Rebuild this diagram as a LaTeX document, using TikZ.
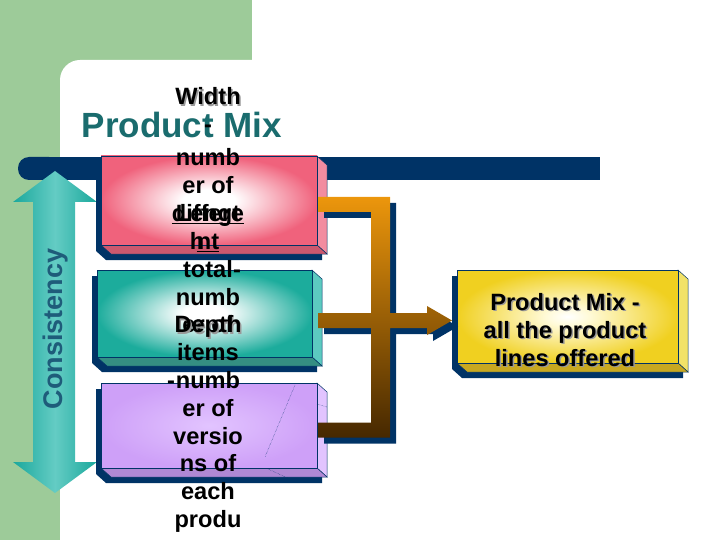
\documentclass[tikz,border=0pt]{standalone}
\usepackage{fontspec}
\setmainfont{Liberation Sans}
\usetikzlibrary{calc}
\definecolor{navy}{RGB}{0,51,102}
\definecolor{leaf}{RGB}{157,203,153}
\definecolor{rose}{RGB}{240,98,124}
\definecolor{roseside}{RGB}{242,140,160}
\definecolor{rosebase}{RGB}{204,88,110}
\definecolor{sea}{RGB}{28,172,156}
\definecolor{seaside}{RGB}{92,202,192}
\definecolor{seabase}{RGB}{52,142,130}
\definecolor{lilac}{RGB}{206,160,248}
\definecolor{lilacin}{RGB}{226,196,255}
\definecolor{lilacbase}{RGB}{176,136,212}
\definecolor{lemon}{RGB}{240,208,32}
\definecolor{lemonin}{RGB}{255,250,215}
\definecolor{lemonside}{RGB}{242,226,104}
\definecolor{lemonbase}{RGB}{200,168,32}
\definecolor{arrowmid}{RGB}{100,204,196}
\definecolor{arrowedge}{RGB}{26,168,156}
\definecolor{amber}{RGB}{236,150,12}
\definecolor{amberdk}{RGB}{176,112,18}
\definecolor{umber}{RGB}{70,40,0}
\definecolor{titleteal}{RGB}{26,108,110}
\definecolor{consblue}{RGB}{30,92,122}
\pgfdeclarelayer{back}
\pgfdeclarelayer{mid}
\pgfsetlayers{back,mid,main}
\pgfdeclareradialshading{roseface}{\pgfpoint{0bp}{0bp}}{color(0bp)=(white); color(6bp)=(white); color(25bp)=(rose); color(50bp)=(rose)}
\pgfdeclareradialshading{seaface}{\pgfpoint{0bp}{0bp}}{color(0bp)=(white); color(5bp)=(white); color(25bp)=(sea); color(50bp)=(sea)}
\pgfdeclareradialshading{lilacface}{\pgfpoint{0bp}{0bp}}{color(0bp)=(lilacin); color(25bp)=(lilac); color(50bp)=(lilac)}
\pgfdeclareradialshading{lemonface}{\pgfpoint{0bp}{0bp}}{color(0bp)=(white); color(5bp)=(lemonin); color(25bp)=(lemon); color(50bp)=(lemon)}

% shadow, side and bottom face of a box node
\newcommand{\bevel}[3]{%
	\begin{pgfonlayer}{mid}
	\fill[navy] ($(#1.north west)+(-5,6)$) -- ($(#1.north east)+(-5,6)$) -- ($(#1.north east)+(5,15)$)
		-- ($(#1.south east)+(5,15)$) -- ($(#1.south west)+(5,15)$) -- ($(#1.south west)+(-5,6)$) -- cycle;
	\filldraw[fill=#2, draw=navy, line width=0.5pt] (#1.north east) -- ($(#1.north east)+(10,9)$)
		-- ($(#1.south east)+(10,9)$) -- (#1.south east) -- cycle;
	\filldraw[fill=#3, draw=navy, line width=0.5pt] (#1.south west) -- (#1.south east)
		-- ($(#1.south east)+(10,9)$) -- ($(#1.south west)+(10,9)$) -- cycle;
	\end{pgfonlayer}}

% bracket with arrow, #1 = offset
\newcommand{\feedpath}[1]{%
	($(fin1)+#1+(0,-7.5)$) -- ($(s1)+#1+(9.5,-7.5)$) -- ($(s2)+#1+(9.5,-7.5)$) -- ($(tip)+#1+(-25,-7.5)$)
	-- ($(tip)+#1+(-25,-14.5)$) -- ($(tip)+#1$) -- ($(tip)+#1+(-25,14.5)$) -- ($(tip)+#1+(-25,7.5)$)
	-- ($(s2)+#1+(9.5,7.5)$) -- ($(s3)+#1+(9.5,7.5)$) -- ($(fin3)+#1+(0,7.5)$) -- ($(fin3)+#1+(0,-7.5)$)
	-- ($(s3)+#1+(-9.5,-7.5)$) -- ($(s2)+#1+(-9.5,7.5)$) -- ($(fin2)+#1+(0,7.5)$) -- ($(fin2)+#1+(0,-7.5)$)
	-- ($(s2)+#1+(-9.5,-7.5)$) -- ($(s1)+#1+(-9.5,7.5)$) -- ($(fin1)+#1+(0,7.5)$) -- cycle}

\begin{document}
\begin{tikzpicture}[x=1pt,y=-1pt,
	boxfront/.style={draw=navy, line width=0.5pt, inner sep=0pt, outer sep=0pt, shade},
	txt/.style={font=\bfseries\fontsize{23.6pt}{28pt}\selectfont, inner sep=0pt, anchor=base},
	txtsh/.style={txt, text=black!40}]
	\useasboundingbox (0,0) rectangle (720,540);
	\begin{pgfonlayer}{back}
	\fill[leaf] (0,0) rectangle (252,80);
	\fill[leaf] (0,0) rectangle (80,540);
	\fill[white, rounded corners=20] (60,60) rectangle (300,560);
	\fill[navy] (30,157) rectangle (600,180);
	\fill[navy, rounded corners=11] (18,157) rectangle (60,180);
	\end{pgfonlayer}
	\begin{pgfonlayer}{mid}
	\shade[left color=arrowedge, right color=arrowedge, middle color=arrowmid]
		(55,171) -- (97,202) -- (75,202) -- (75,462) -- (97,462) -- (55,493)
		-- (13,462) -- (33,462) -- (33,202) -- (13,202) -- cycle;
	\end{pgfonlayer}
	\node[font=\bfseries\fontsize{27pt}{32pt}\selectfont, text=consblue, rotate=90, anchor=base, inner sep=0pt]
		(consist) at (62,329) {Consistency};
	\node[font=\bfseries\fontsize{35pt}{40pt}\selectfont, text=titleteal, anchor=base, inner sep=0pt]
		(title) at (182,138) {Product Mix};

	\node[boxfront, minimum width=216pt, minimum height=89pt, shading=roseface] (len) at (209,200.5) {};
	\node[boxfront, minimum width=215pt, minimum height=87pt, shading=seaface] (dep) at (204.5,313.5) {};
	\node[boxfront, minimum width=216pt, minimum height=85pt, shading=lilacface] (ver) at (209,425.5) {};
	\node[boxfront, minimum width=221pt, minimum height=93pt, shading=lemonface] (mix) at (567.5,316.5) {};
	\bevel{len}{roseside}{rosebase}
	\bevel{dep}{seaside}{seabase}
	\bevel{ver}{lilacin}{lilacbase}
	\bevel{mix}{lemonside}{lemonbase}
	\draw[navy, densely dotted, line width=0.4pt] (295,385) -- (265,457) (268,469) -- (292,480) (317,404) -- (327,407);

	\coordinate (fin1) at ($(len.east)+(1,4)$);
	\coordinate (fin2) at ($(dep.east)+(6,7)$);
	\coordinate (fin3) at ($(ver.east)+(1,4.5)$);
	\coordinate (spine) at ($(len.east)+(63.5,0)$);
	\coordinate (s1) at (fin1 -| spine);
	\coordinate (s2) at (fin2 -| spine);
	\coordinate (s3) at (fin3 -| spine);
	\coordinate (tip) at ($(fin2 -| mix.west)+(-5,0)$);
	\fill[navy] \feedpath{(6,6)};
	\shade[top color=amber, middle color=amberdk, bottom color=umber] \feedpath{(0,0)};

	\foreach \w [count=\k from 0] in {numb,er of,\underline{differe},\underline{nt},total,numb,er of,items,numb,er of,versio,ns of,each,produ}
		\node[txt] (ln\k) at (208,166+27.8*\k) {\w};
	\node[txtsh] (width-sh) at ($(ln0.base)+(1.5,-59.5)$) {Width};
	\node[txt] (width) at ($(ln0.base)+(0,-61)$) {Width};
	\node[txt] (dash1) at ($(ln0.base)+(0,-33)$) {-};
	\node[txt] (lengt) at (ln2.base) {Lengt};
	\node[txt] (lengt-h) at ($(ln3.base)+(-11,0)$) {h};
	\node[txt] (dash2) at ($(ln4.base)+(29,0)$) {-};
	\node[txtsh] (depth-sh) at ($(ln6.base)+(1.5,1.5)$) {Depth};
	\node[txt] (depth) at (ln6.base) {Depth};
	\node[txt] (dash3) at ($(ln8.base)+(-37,0)$) {-};

	\foreach \t [count=\k from 0] in {Product Mix -,all the product,lines offered}{
		\node[txtsh] (mixsh\k) at (566.5,311.5+28*\k) {\t};
		\node[txt] (mixln\k) at (565,310+28*\k) {\t};
	}
\end{tikzpicture}
\end{document}
